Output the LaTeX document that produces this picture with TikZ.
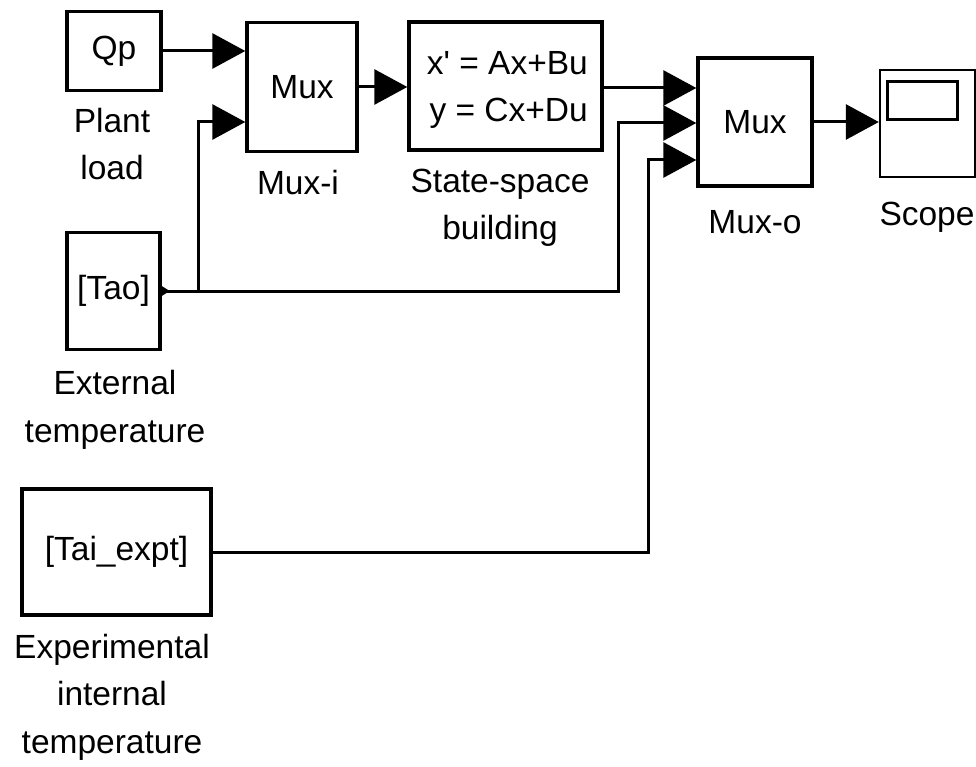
\documentclass[tikz,border=0pt]{standalone}
\usepackage{fontspec}
\setmainfont{Liberation Sans}[Ligatures=TeXOff]
\usetikzlibrary{arrows.meta}
\begin{document}
\begin{tikzpicture}[x=1pt,y=-1pt,
  blk/.style={draw,line width=3.4pt,fill=white,inner sep=0pt},
  sig/.style={line width=3pt,-{Triangle[length=33pt,width=35pt]}},
  wire/.style={line width=3pt},
  lbl/.style={align=center,inner sep=0pt},
  font=\fontsize{33.5}{47.5}\selectfont]
\useasboundingbox (0,0) rectangle (976,767);
% blocks
\node[blk,minimum width=94pt,minimum height=79pt] (Qp) at (114,51) {Qp};
\node[blk,minimum width=110pt,minimum height=129pt] (Muxi) at (302,87) {Mux};
\node[blk,minimum width=193pt,minimum height=128pt] (SS) at (505.5,86) {};
\node[align=right,anchor=east,inner sep=0pt] (SSt) at (588,90) {x' = Ax+Bu\\y = Cx+Du};
\node[blk,minimum width=114pt,minimum height=128pt] (Muxo) at (755,122) {Mux};
\node[blk,line width=2.4pt,minimum width=95pt,minimum height=107pt] (Scope) at (927.5,123.5) {};
\draw[line width=3pt] ([shift={(9,13)}]Scope.north west) rectangle ([shift={(79,51)}]Scope.north west);
\node[blk,minimum width=93pt,minimum height=117pt] (Tao) at (113.5,291) {[Tao]};
\node[blk,minimum width=189pt,minimum height=126pt] (Tai) at (116.5,552) {[Tai\_expt]};
% labels
\node[lbl] (lQp) at (112,144) {Plant\\load};
\node[lbl] (lMuxi) at (298,183) {Mux-i};
\node[lbl] (lSS) at (500,208) {State-space\\building};
\node[lbl] (lMuxo) at (755,222) {Mux-o};
\node[lbl] (lScope) at (927,217) {Scope};
\node[lbl] (lTao) at (115,410) {External\\temperature};
\node[lbl] (lTai) at (112,697) {Experimental\\internal\\temperature};
% routing coordinates
\coordinate (b1) at (198,0);
\coordinate (b2) at (618,0);
\coordinate (b3) at (648,0);
% connectors
\draw[sig] (Qp.east) -- (Qp.east -| Muxi.west);
\draw[sig] (Muxi.east) -- (Muxi.east -| SS.west);
\draw[sig] (SS.east |- Muxo.west) ++(0,-34) -- ([yshift=34pt]Muxo.west);
\draw[sig] (Muxo.east) -- (Muxo.east -| Scope.west);
\fill (Tao.east) ++(0,-5) -- ++(8,5) -- ++(-8,5) -- cycle;
\draw[wire] (Tao.east) -- (Tao.east -| b1);
\draw[sig] (Tao.east -| b1) |- ([yshift=-35pt]Muxi.west);
\draw[sig] (Tao.east -| b1) -- (Tao.east -| b2) |- ([yshift=-1pt]Muxo.west);
\draw[sig] (Tai.east) -- (Tai.east -| b3) |- ([yshift=-38pt]Muxo.west);
\end{tikzpicture}
\end{document}
